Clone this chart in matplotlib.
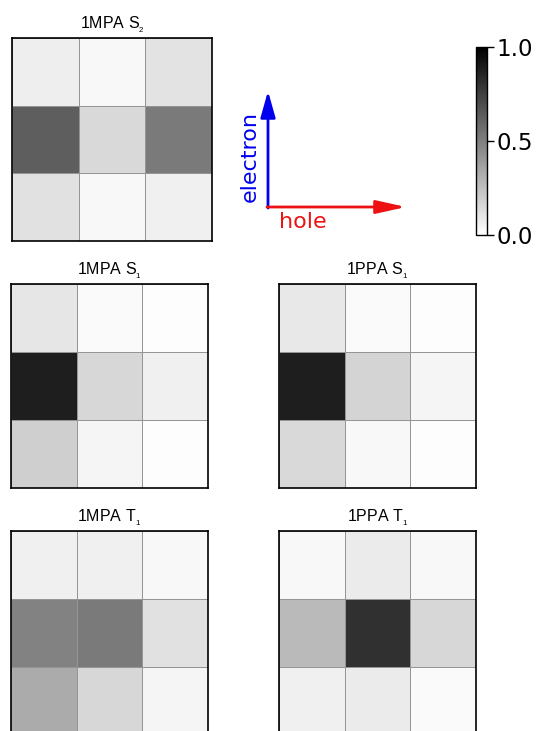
import matplotlib
matplotlib.use('Agg')
import matplotlib.pyplot as plt
import numpy as np

plt.rcParams['mathtext.fontset'] = 'custom'
plt.rcParams['mathtext.rm'] = 'Liberation Sans'
plt.rcParams['mathtext.it'] = 'Liberation Sans'

# hole/electron fragment populations (rows: electron fragment, cols: hole fragment)
mpa_s2 = [[0.07, 0.03, 0.11],
          [0.63, 0.15, 0.52],
          [0.12, 0.03, 0.06]]
mpa_s1 = [[0.10, 0.02, 0.01],
          [0.88, 0.16, 0.06],
          [0.19, 0.04, 0.01]]
ppa_s1 = [[0.09, 0.02, 0.01],
          [0.88, 0.17, 0.04],
          [0.15, 0.03, 0.01]]
mpa_t1 = [[0.06, 0.06, 0.03],
          [0.49, 0.52, 0.12],
          [0.33, 0.16, 0.04]]
ppa_t1 = [[0.03, 0.08, 0.03],
          [0.27, 0.81, 0.16],
          [0.06, 0.08, 0.02]]

titles = [r'$\mathrm{1MPA\ S_{_2}}$', r'$\mathrm{1MPA\ S_{_1}}$', r'$\mathrm{1PPA\ S_{_1}}$',
          r'$\mathrm{1MPA\ T_{_1}}$', r'$\mathrm{1PPA\ T_{_1}}$']
maps = [mpa_s2, mpa_s1, ppa_s1, mpa_t1, ppa_t1]
cbar_ticks = [0.0, 0.5, 1.0]

W, H = 539, 731
fig = plt.figure(figsize=(W / 100, H / 100), dpi=100)


def px_axes(x0, y0, x1, y1):
    # axes placed by pixel box (top-left origin)
    return fig.add_axes([x0 / W, (H - y1) / H, (x1 - x0) / W, (y1 - y0) / H])


boxes = [(12, 38, 212, 241),
         (11, 284, 208, 488), (279, 284, 476, 488),
         (11, 531, 208, 735), (279, 531, 476, 735)]

im = None
for data, title, box in zip(maps, titles, boxes):
    ax = px_axes(*box)
    im = ax.pcolormesh(np.array(data), cmap='gray_r', vmin=0, vmax=1,
                       edgecolors='#959595', linewidth=0.6)
    ax.set_xlim(0, 3)
    ax.set_ylim(3, 0)
    ax.set_xticks([])
    ax.set_yticks([])
    for s in ax.spines.values():
        s.set_linewidth(1.2)
    ax.set_title(title, fontsize=11.5, pad=7)

# colorbar
cax = px_axes(476, 47, 487, 235)
cb = fig.colorbar(im, cax=cax, ticks=cbar_ticks)
cb.ax.set_yticklabels(['%.1f' % t for t in cbar_ticks])
cb.ax.tick_params(labelsize=16.5, length=5, width=1, pad=2)
cb.outline.set_linewidth(1)

# hole / electron direction arrows
ov = fig.add_axes([0, 0, 1, 1])
ov.set_xlim(0, W)
ov.set_ylim(H, 0)
ov.axis('off')
ov.annotate('', xy=(268, 91), xytext=(268, 208),
            arrowprops=dict(arrowstyle='-|>,head_length=1.6,head_width=0.45',
                            color='#0000ee', lw=2, shrinkA=0, shrinkB=0))
ov.annotate('', xy=(406, 207), xytext=(267, 207),
            arrowprops=dict(arrowstyle='-|>,head_length=1.8,head_width=0.4',
                            color='#ee1111', lw=2, shrinkA=0, shrinkB=0))
ov.text(250, 157, 'electron', color='#0000ee', rotation=90, fontsize=16,
        ha='center', va='center')
ov.text(279, 222, 'hole', color='#ee1111', fontsize=16, ha='left', va='center')

fig.savefig('out.png', dpi=100)
